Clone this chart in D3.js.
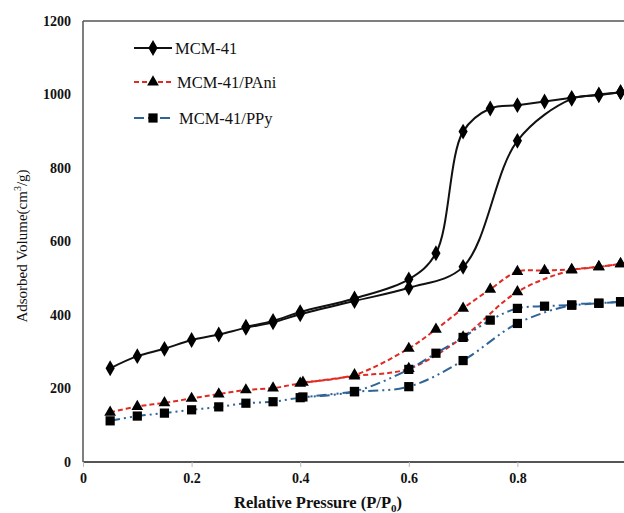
<html>
<head>
<script src="https://cdnjs.cloudflare.com/ajax/libs/d3/7.8.5/d3.min.js"></script>
<style>
  body { margin: 0; background: #fff; }
</style>
</head>
<body>
<div id="container"></div>
<script>
// Data (P/P0 vs adsorbed volume, cm3/g)
var mcmAdsP = [0.05, 0.1, 0.15, 0.2, 0.25, 0.3, 0.35, 0.4, 0.5, 0.6, 0.7, 0.8, 0.9, 0.95, 0.99];
var mcmAdsV = [255, 288, 308, 332, 347, 365, 380, 402, 438, 474, 531, 874, 988, 998, 1006];
var mcmDesP = [0.99, 0.95, 0.9, 0.85, 0.8, 0.75, 0.7, 0.65, 0.6, 0.5, 0.4, 0.35, 0.3];
var mcmDesV = [1006, 1000, 991, 981, 971, 962, 899, 568, 497, 445, 408, 384, 368];

var paniAdsP = [0.05, 0.1, 0.15, 0.2, 0.25, 0.3, 0.35, 0.4, 0.5, 0.6, 0.7, 0.8, 0.9, 0.95, 0.99];
var paniAdsV = [135, 151, 161, 173, 185, 196, 201, 214, 234, 254, 340, 463, 522, 531, 539];
var paniDesP = [0.99, 0.95, 0.9, 0.85, 0.8, 0.75, 0.7, 0.65, 0.6, 0.5, 0.405];
var paniDesV = [539, 531, 524, 521, 518, 470, 418, 361, 309, 237, 217];

var ppyAdsP = [0.05, 0.1, 0.15, 0.2, 0.25, 0.3, 0.35, 0.4, 0.5, 0.6, 0.7, 0.8, 0.9, 0.95, 0.99];
var ppyAdsV = [112, 125, 133, 142, 150, 160, 164, 175, 191, 205, 276, 377, 427, 432, 436];
var ppyDesP = [0.99, 0.95, 0.9, 0.85, 0.8, 0.75, 0.7, 0.65, 0.6, 0.5, 0.405];
var ppyDesV = [436, 432, 427, 424, 418, 386, 339, 296, 252, 192, 177];

var xTicks = [0, 0.2, 0.4, 0.6, 0.8];
var yTicks = [0, 200, 400, 600, 800, 1000, 1200];
var seriesNames = ["MCM-41", "MCM-41/PAni", "MCM-41/PPy"];

var serif = "'Liberation Serif', 'Times New Roman', serif";
var w = 624, h = 513;
var svg = d3.select("#container").append("svg")
    .attr("width", w).attr("height", h);

var x = d3.scaleLinear().domain([0, 1]).range([83, 626]);
var y = d3.scaleLinear().domain([0, 1200]).range([462, 21]);

// frame
svg.append("line").attr("x1", x(0)).attr("x2", w).attr("y1", y(1200)).attr("y2", y(1200))
    .attr("stroke", "#555").attr("stroke-width", 1.5);
svg.append("line").attr("x1", x(0)).attr("x2", x(0)).attr("y1", y(1200)).attr("y2", y(0))
    .attr("stroke", "#555").attr("stroke-width", 1.5);

var xAxis = svg.append("g").attr("transform", "translate(0," + y(0) + ")")
    .call(d3.axisBottom(x).tickValues(xTicks).tickSize(5).tickFormat(d3.format("")));
xAxis.select(".domain").attr("d", "M" + x(0) + ",0H" + w).attr("stroke", "#555").attr("stroke-width", 2);
xAxis.selectAll(".tick line").attr("stroke", "#bbb");
xAxis.selectAll(".tick text").style("font-family", serif).style("font-weight", "bold")
    .style("font-size", "14px").attr("fill", "#111").attr("dy", "0.95em");

var yAxis = svg.append("g").attr("transform", "translate(" + x(0) + ",0)")
    .call(d3.axisLeft(y).tickValues(yTicks).tickSize(0).tickPadding(12).tickFormat(d3.format("d")));
yAxis.select(".domain").remove();
yAxis.selectAll(".tick text").style("font-family", serif).style("font-weight", "bold")
    .style("font-size", "14px").attr("fill", "#111");

// axis titles
var xt = svg.append("text").attr("x", 318).attr("y", 508).attr("text-anchor", "middle")
    .style("font-family", serif).style("font-weight", "bold").style("font-size", "16.5px").attr("fill", "#111");
xt.append("tspan").text("Relative Pressure (P/P");
xt.append("tspan").style("font-size", "11px").attr("dy", 4).text("0");
xt.append("tspan").attr("dy", -4).text(")");

var yt = svg.append("text").attr("transform", "translate(27,246) rotate(-90)")
    .attr("text-anchor", "middle").style("font-family", serif).style("font-size", "15px").attr("fill", "#111");
yt.append("tspan").text("Adsorbed Volume(cm");
yt.append("tspan").style("font-size", "10px").attr("dy", -6).text("3");
yt.append("tspan").attr("dy", 6).text("/g)");

var styles = [
    {color: "#111", dash: null, symbol: d3.symbolDiamond, size: 60},
    {color: "#e02a22", dash: "5,3", symbol: d3.symbolTriangle, size: 60},
    {color: "#2f6498", dash: "10,4,2,4,2,4", symbol: d3.symbolSquare, size: 85}
];

var series = [
    [d3.zip(mcmAdsP, mcmAdsV), d3.zip(mcmDesP, mcmDesV)],
    [d3.zip(paniAdsP, paniAdsV), d3.zip(paniDesP, paniDesV)],
    [d3.zip(ppyAdsP, ppyAdsV), d3.zip(ppyDesP, ppyDesV)]
];

var line = d3.line()
    .x(function(d) { return x(d[0]); })
    .y(function(d) { return y(d[1]); })
    .curve(d3.curveCatmullRom.alpha(0.5));

series.forEach(function(branches, i) {
    var st = styles[i];
    var g = svg.append("g");
    branches.forEach(function(pts) {
        g.append("path").attr("d", line(pts)).attr("fill", "none")
            .attr("stroke", st.color).attr("stroke-width", 2)
            .attr("stroke-dasharray", st.dash);
    });
    branches.forEach(function(pts) {
        g.selectAll(null).data(pts).enter().append("path")
            .attr("d", d3.symbol().type(st.symbol).size(st.size))
            .attr("transform", function(d) {
                var s = st.symbol === d3.symbolDiamond ? " scale(1.1,1.1)" : "";
                return "translate(" + x(d[0]) + "," + y(d[1]) + ")" + s;
            })
            .attr("fill", "#000");
    });
});

// legend
var legY = [48, 82, 118];
seriesNames.forEach(function(name, i) {
    var st = styles[i];
    var g = svg.append("g");
    g.append("line").attr("x1", 134).attr("x2", 172).attr("y1", legY[i]).attr("y2", legY[i])
        .attr("stroke", st.color).attr("stroke-width", 2).attr("stroke-dasharray", st.dash);
    g.append("path").attr("d", d3.symbol().type(st.symbol).size(st.size))
        .attr("transform", "translate(153," + legY[i] + ")" + (i === 0 ? " scale(1.1,1.1)" : ""))
        .attr("fill", "#000");
    g.append("text").attr("x", 175 + i * 2).attr("y", legY[i] + 6)
        .style("font-family", serif).style("font-size", "16.5px").attr("fill", "#111").text(name);
});
</script>
</body>
</html>
